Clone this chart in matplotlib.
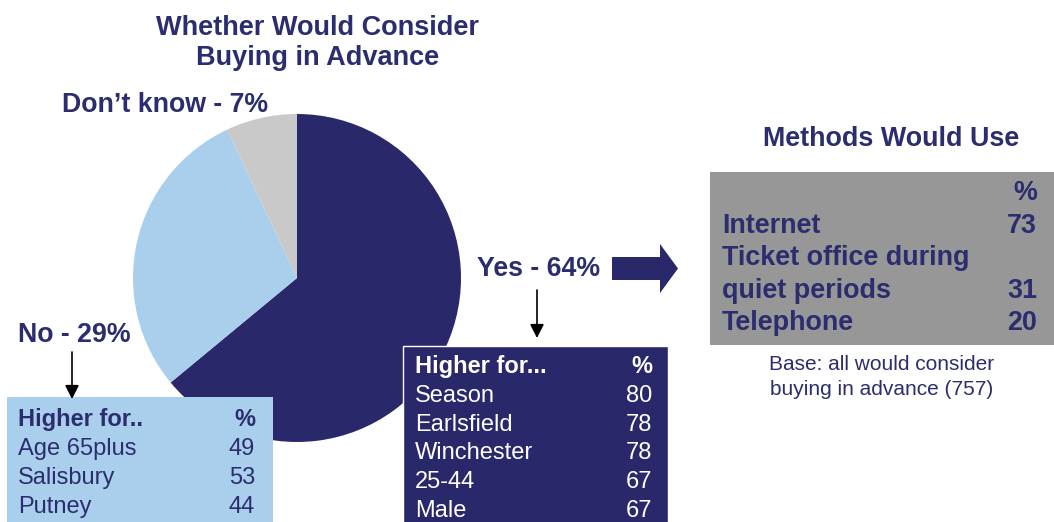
import matplotlib.pyplot as plt
from matplotlib.patches import Rectangle, FancyArrow

plt.rcParams['font.family'] = ['Liberation Sans', 'DejaVu Sans']

# answers to "would you consider buying in advance"
answers = ["Yes", "No", "Don\u2019t know"]
shares = [64, 29, 7]

# groups where each answer was higher (%)
yes_groups = ["Season", "Earlsfield", "Winchester", "25-44", "Male"]
yes_pct = [80, 78, 78, 67, 67]
no_groups = ["Age 65plus", "Salisbury", "Putney"]
no_pct = [49, 53, 44]

# methods among those who would buy in advance (%)
methods = ["Internet", "Ticket office during\nquiet periods", "Telephone"]
method_pct = [73, 31, 20]
base_note = "Base: all would consider\nbuying in advance (757)"

navy_txt = '#2b2d6e'
navy = '#29286a'
light_blue = '#a9cfec'
grey_slice = '#c9c9c9'
grey_box = '#979797'

W, H = 1054, 522
fig = plt.figure(figsize=(W / 100, H / 100), dpi=100)

# pie on its own square axes (pixel centre 297,278 radius 164)
cx, cy, r = 297, 278, 164
pax = fig.add_axes([(cx - r) / W, (H - cy - r) / H, 2 * r / W, 2 * r / H], zorder=1)
pax.pie(shares, colors=[navy, light_blue, grey_slice], startangle=90,
        counterclock=False, wedgeprops=dict(linewidth=0))
pax.set_xlim(-1, 1)
pax.set_ylim(-1, 1)
pax.set_aspect('equal')
pax.axis('off')

# overlay in pixel coordinates for boxes and text
ax = fig.add_axes([0, 0, 1, 1], zorder=2)
ax.set_xlim(0, W)
ax.set_ylim(H, 0)
ax.axis('off')
ax.patch.set_alpha(0)

ax.text(318, 35, "Whether Would Consider", ha='center', va='baseline',
        fontsize=19.5, fontweight='bold', color=navy_txt)
ax.text(318, 65, "Buying in Advance", ha='center', va='baseline',
        fontsize=19.5, fontweight='bold', color=navy_txt)

label_pos = {"Yes": (477, 276), "No": (18, 342), "Don\u2019t know": (62, 112)}
for a, s in zip(answers, shares):
    x, y = label_pos[a]
    ax.text(x, y, f"{a} - {s}%", ha='left', va='baseline', fontsize=19.3,
            fontweight='bold', color=navy_txt)

# small pointer arrows
for x, y0, y1 in [(72, 352, 399), (537, 290, 338)]:
    ax.annotate("", xy=(x, y1), xytext=(x, y0),
                arrowprops=dict(arrowstyle='-|>,head_length=0.55,head_width=0.28',
                                color='black', lw=1.2, mutation_scale=15,
                                shrinkA=0, shrinkB=0))

# big arrow to the methods table
ax.add_patch(FancyArrow(612, 268.5, 66, 0, width=23, head_width=49,
                        head_length=18, length_includes_head=True,
                        color=navy, lw=0))

# "No" box
ax.add_patch(Rectangle((7, 397), 266, 140, facecolor=light_blue, edgecolor='none'))
ax.text(18, 426, "Higher for..", fontsize=17, fontweight='bold', color=navy_txt, va='baseline')
ax.text(255, 426, "%", fontsize=17, fontweight='bold', color=navy_txt, va='baseline', ha='right')
for i, (g, p) in enumerate(zip(no_groups, no_pct)):
    y = 426 + 29 * (i + 1)
    ax.text(18, y, g, fontsize=17, color=navy_txt, va='baseline')
    ax.text(255, y, str(p), fontsize=17, color=navy_txt, va='baseline', ha='right')

# "Yes" box
ax.add_patch(Rectangle((403, 346), 265, 190, facecolor=navy, edgecolor='white', lw=1))
ax.text(415, 373, "Higher for...", fontsize=17, fontweight='bold', color='white', va='baseline')
ax.text(652, 373, "%", fontsize=17, fontweight='bold', color='white', va='baseline', ha='right')
for i, (g, p) in enumerate(zip(yes_groups, yes_pct)):
    y = 373 + 28.8 * (i + 1)
    ax.text(415, y, g, fontsize=17, color='white', va='baseline')
    ax.text(652, y, str(p), fontsize=17, color='white', va='baseline', ha='right')

# methods table
ax.text(891, 146, "Methods Would Use", ha='center', va='baseline',
        fontsize=19.4, fontweight='bold', color=navy_txt)
ax.add_patch(Rectangle((710, 172), 360, 173, facecolor=grey_box, edgecolor='none'))
ax.text(1037, 200, "%", fontsize=19.4, fontweight='bold', color=navy_txt, va='baseline', ha='right')
line = 0
for m, p in zip(methods, method_pct):
    parts = m.split("\n")
    for part in parts:
        ax.text(722, 233 + 32.3 * line, part, fontsize=19.4, fontweight='bold',
                color=navy_txt, va='baseline')
        line += 1
    ax.text(1037, 233 + 32.3 * (line - 1), str(p), fontsize=19.4, fontweight='bold',
            color=navy_txt, va='baseline', ha='right')

for k, part in enumerate(base_note.split("\n")):
    ax.text(882, 370 + 25 * k, part, ha='center', va='baseline', fontsize=15, color=navy_txt)

fig.savefig("out.png", dpi=100, facecolor='white')
